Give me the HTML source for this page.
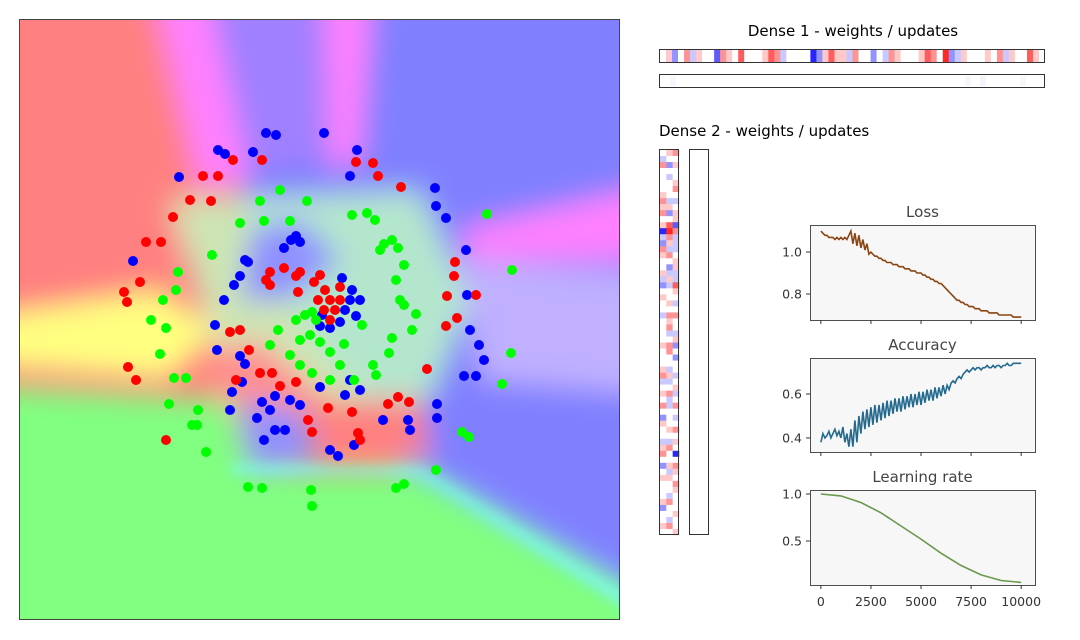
<!DOCTYPE html>
<html><head><meta charset="utf-8">
<style>
html,body{margin:0;padding:0;background:#fff;width:1080px;height:640px;overflow:hidden;}
body{font-family:"Liberation Sans","DejaVu Sans",sans-serif;}
svg{display:block;overflow:hidden;}
svg text{font-family:"DejaVu Sans","Liberation Sans",sans-serif;}
</style></head>
<body>
<svg id="root" width="1080" height="640" viewBox="0 0 1080 640" xmlns="http://www.w3.org/2000/svg">
<defs>
<clipPath id="mainclip"><rect x="19" y="19" width="601" height="601"/></clipPath>
<filter id="blur" filterUnits="userSpaceOnUse" x="-100" y="-100" width="820" height="820"><feGaussianBlur stdDeviation="14"/></filter>
<filter id="blur2" filterUnits="userSpaceOnUse" x="-100" y="-100" width="820" height="820"><feGaussianBlur stdDeviation="6"/></filter>
</defs>
<g clip-path="url(#mainclip)">
  <rect x="19" y="19" width="601" height="601" fill="#ff8080"/>
  <g filter="url(#blur)">
    <polygon points="-100,-100 -100,330 160,290 200,190 120,-100" fill="#ff8080"/>
    <polygon points="140,-100 720,-100 720,580 420,470 330,360 260,250" fill="#8080ff"/>
    <polygon points="400,420 720,420 720,720 400,720" fill="#8080ff"/>
    <polygon points="130,-100 190,-100 250,180 200,190" fill="#ff80ff"/>
    <polygon points="320,-100 380,-100 360,160 330,170" fill="#ff80ff"/>
    <polygon points="720,170 720,260 470,260 460,230" fill="#ff80ff"/>
    <polygon points="200,-100 320,-100 330,160 250,170" fill="#a080ff"/>
    <polygon points="-100,330 160,290 220,330 170,380 -100,360" fill="#ffff80"/>
    <polygon points="170,200 420,190 470,300 430,400 240,400 200,300" fill="#c0ffc0" opacity="0.8"/>
    <polygon points="250,230 300,220 340,260 290,300 240,300" fill="#9090ff"/>
    <polygon points="210,350 260,340 330,400 300,420 220,420" fill="#ff9090"/>
    <polygon points="-100,380 230,400 250,470 420,470 720,640 720,720 -100,720" fill="#80ff80"/>
    <polygon points="240,400 300,410 320,460 250,470" fill="#9090ff"/>
    <polygon points="320,400 420,400 430,460 330,440" fill="#ff8080"/>
    <polygon points="460,260 720,280 720,400 480,380" fill="#c0b0ff"/>
  </g>
  <g filter="url(#blur2)" opacity="0.7">
    <polygon points="230,465 420,468 700,640 700,655 420,476 230,472" fill="#80ffff"/>
  </g>
</g>
<rect x="19.5" y="19.5" width="600" height="600" fill="none" stroke="#444" stroke-width="1"/>
<g id="scatter"></g>

<text x="853" y="36" text-anchor="middle" font-size="15" fill="#000">Dense 1 - weights / updates</text>
<g id="dense1"></g>
<rect x="659.5" y="49.5" width="385" height="13" fill="none" stroke="#333"/>
<rect x="659.5" y="74.5" width="385" height="13" fill="#fff" stroke="#333"/>
<rect x="670" y="76" width="6" height="10" fill="#f6f6fc"/><rect x="965" y="76" width="6" height="10" fill="#f6f6fc"/><rect x="980" y="76" width="6" height="10" fill="#f4f4fc"/><rect x="1020" y="76" width="6" height="10" fill="#f8f6f6"/>

<text x="659" y="136" font-size="15" fill="#000">Dense 2 - weights / updates</text>
<g id="dense2"></g>
<rect x="659.5" y="149.5" width="19" height="385" fill="none" stroke="#333"/>
<rect x="689.5" y="149.5" width="19" height="385" fill="#fff" stroke="#333"/>

<g id="charts"></g>
</svg>
<script>
const blueX=[266,276,324,218,225,253,357,179,350,435,436,446,133,291,296,300,284,245,248,240,234,224,215,217,240,245,242,232,230,257,264,275,330,338,354,383,408,410,437,437,464,476,484,479,470,467,466,342,352,350,345,340,330,320,356,360,322,275,262,290,300,270,285,350,360,320,345];
const blueY=[133,135,133,150,154,152,150,177,176,188,206,218,261,240,236,242,248,260,262,276,285,300,325,350,356,364,382,392,410,418,440,430,450,456,445,420,420,430,404,418,376,376,360,345,330,295,250,278,290,300,310,322,328,326,316,300,315,396,402,400,405,410,430,380,390,387,395];
const redX=[203,218,233,262,356,373,378,401,190,211,173,146,161,140,124,127,128,136,166,230,240,249,260,272,236,266,270,284,300,296,314,320,325,330,340,335,318,298,270,324,330,340,328,352,308,312,358,360,388,398,409,427,446,457,447,454,476,455,280,296];
const redY=[176,176,160,160,162,163,176,187,200,201,217,242,242,282,292,302,367,380,440,332,330,350,373,373,380,280,272,268,272,276,282,275,290,300,300,310,300,292,285,310,320,287,408,412,420,432,433,440,404,397,402,369,326,318,296,276,295,262,386,382];
const greenX=[280,260,240,264,290,307,352,367,375,384,392,398,404,396,400,404,416,412,392,389,373,376,354,340,330,312,300,290,300,310,305,312,316,296,278,270,212,178,176,163,151,166,160,174,186,169,198,192,197,206,248,262,311,312,396,404,436,462,469,502,511,512,487,380,362,344,330,320];
const greenY=[190,201,223,221,221,201,215,213,220,244,240,248,265,280,300,305,314,330,338,353,365,375,380,365,380,373,365,355,340,335,315,312,320,320,330,345,255,272,290,300,320,328,354,378,378,404,410,425,425,452,487,488,490,506,488,484,470,432,437,384,353,270,214,250,325,344,352,342];
const dense1Vals="efcegdfeebgfeheeefhgdeeeeacfhffdgeecedgfeeefhgeicdfeeefegdfeehfe";
const dense2Rows=["efg","dee","gcf","eee","ede","eef","eeg","fee","gdd","ffe","gcf","eef","fhb","aig","dgd","cfd","gdd","fge","eef","ecf","fdd","dfd","cdh","eef","fee","efd","eee","dgg","efe","ege","edd","eef","fgc","ege","eec","eee","fde","gfd","dde","eef","fgd","ede","gdg","eee","ced","fee","efg","eee","ddf","fge","gea","eee","cfg","edf","ffe","eeg","eef","ede","fge","cee","eef","ede","fge","eef"];
const stepSize=100;
const lossVals=[1.10,1.09,1.08,1.08,1.07,1.07,1.07,1.06,1.07,1.06,1.07,1.06,1.07,1.06,1.08,1.10,1.04,1.09,1.03,1.08,1.02,1.06,1.01,1.04,0.99,1.00,0.99,0.98,0.98,0.97,0.97,0.96,0.96,0.95,0.95,0.95,0.94,0.94,0.94,0.93,0.93,0.93,0.92,0.92,0.92,0.91,0.91,0.91,0.90,0.90,0.90,0.89,0.89,0.88,0.88,0.87,0.87,0.86,0.86,0.85,0.85,0.84,0.83,0.82,0.81,0.80,0.79,0.78,0.77,0.77,0.76,0.76,0.75,0.75,0.74,0.74,0.74,0.73,0.73,0.73,0.72,0.72,0.72,0.72,0.71,0.71,0.71,0.71,0.71,0.70,0.70,0.70,0.70,0.70,0.70,0.70,0.69,0.69,0.69,0.69,0.69];
const accVals=[0.38,0.42,0.40,0.41,0.43,0.40,0.42,0.44,0.41,0.43,0.40,0.45,0.38,0.42,0.36,0.44,0.36,0.48,0.38,0.50,0.42,0.52,0.44,0.53,0.45,0.54,0.46,0.55,0.47,0.55,0.48,0.56,0.49,0.57,0.50,0.57,0.51,0.58,0.52,0.58,0.52,0.59,0.53,0.59,0.54,0.60,0.54,0.60,0.55,0.61,0.55,0.61,0.56,0.62,0.57,0.62,0.57,0.63,0.58,0.63,0.59,0.64,0.60,0.64,0.62,0.65,0.66,0.65,0.67,0.68,0.67,0.69,0.70,0.71,0.70,0.71,0.72,0.71,0.72,0.72,0.71,0.72,0.72,0.73,0.72,0.72,0.73,0.72,0.73,0.73,0.72,0.73,0.73,0.74,0.73,0.73,0.74,0.74,0.74,0.74,0.74];
const lrSteps=[0,1000,2000,3000,4000,5000,6000,7000,8000,9000,10000];
const lrVals=[1.0,0.98,0.91,0.80,0.66,0.52,0.37,0.24,0.14,0.08,0.06];
const xTicks=[0,2500,5000,7500,10000];
const lossTicks=[0.8,1.0];
const accTicks=[0.4,0.6];
const lrTicks=[0.5,1.0];

const NS="http://www.w3.org/2000/svg";
function mk(tag,attrs,parent){const e=document.createElementNS(NS,tag);for(const k in attrs)e.setAttribute(k,attrs[k]);parent.appendChild(e);return e;}
const sx=v=>19+v, sy=v=>19+v;
const sc=document.getElementById('scatter');
function drawPts(xs,ys,col,name){
  for(let i=0;i<xs.length;i++){
    const c=mk('circle',{cx:sx(xs[i]-19),cy:sy(ys[i]-19),r:5,fill:col},sc);
    
    
  }
}
drawPts(blueX,blueY,'#0000ff','point-class-blue');
drawPts(greenX,greenY,'#00ff00','point-class-green');
drawPts(redX,redY,'#ff0000','point-class-red');

function bwr(v){if(v>=0){const t=Math.round(255*(1-v));return `rgb(255,${t},${t})`;}const t=Math.round(255*(1+v));return `rgb(${t},${t},255)`;}
const lv=ch=>(ch.charCodeAt(0)-101)/4*0.85;
const d1=document.getElementById('dense1');
const cw=385/dense1Vals.length;
for(let i=0;i<dense1Vals.length;i++){
  const r=mk('rect',{x:660+i*cw,y:50,width:cw+0.3,height:12,fill:bwr(lv(dense1Vals[i]))},d1);
  
  
}
const d2=document.getElementById('dense2');
const rh=385/dense2Rows.length;
for(let r=0;r<dense2Rows.length;r++)for(let c=0;c<3;c++){
  const e=mk('rect',{x:660+c*6.33,y:150+r*rh,width:6.6,height:rh+0.3,fill:bwr(lv(dense2Rows[r][c]))},d2);
  
  
}

const charts=document.getElementById('charts');
const X0=810,X1=1035,D0=-542,D1=10690;
const xs=v=>X0+(v-D0)/(D1-D0)*(X1-X0);
function panel(title,top,bot,ymin,ymax,ticks,xsArr,ys,col,name,showX){
  const g=mk('g',{},charts);
  
  
  const ysc=v=>bot-(v-ymin)/(ymax-ymin)*(bot-top);
  mk('rect',{x:X0+0.5,y:top+0.5,width:X1-X0,height:bot-top,fill:'#f7f7f7',stroke:'#222','stroke-width':0.8},g);
  const t=mk('text',{x:(X0+X1)/2,y:top-8,'text-anchor':'middle','font-size':15,fill:'#444'},g);t.textContent=title;
  
  
  ticks.forEach(v=>{const y=ysc(v);mk('line',{x1:X0-4,x2:X0,y1:y,y2:y,stroke:'#333'},g);
    const l=mk('text',{x:X0-8,y:y+4.5,'text-anchor':'end','font-size':12.5,fill:'#333'},g);l.textContent=v.toFixed(1);
    
    });
  xTicks.forEach(v=>{const x=xs(v);mk('line',{x1:x,x2:x,y1:bot,y2:bot+4,stroke:'#333'},g);
    if(showX){const l=mk('text',{x:x,y:bot+21,'text-anchor':'middle','font-size':12.5,fill:'#333'},g);l.textContent=String(v);
    
    }});
  let d='';for(let i=0;i<ys.length;i++)d+=(i?'L':'M')+xs(xsArr[i]).toFixed(1)+','+ysc(ys[i]).toFixed(1);
  const p=mk('path',{d:d,fill:'none',stroke:col,'stroke-width':1.6},g);
  
  
}
const lossSteps=lossVals.map((_,i)=>i*stepSize), accSteps=accVals.map((_,i)=>i*stepSize);
panel('Loss',225,320,0.676,1.129,lossTicks,lossSteps,lossVals,'#8b4513','loss',false);
panel('Accuracy',358,452,0.336,0.764,accTicks,accSteps,accVals,'#236a8e','accuracy',false);
panel('Learning rate',490,585,0.032,1.043,lrTicks,lrSteps,lrVals,'#6a994e','learning-rate',true);
</script>
</body></html>
